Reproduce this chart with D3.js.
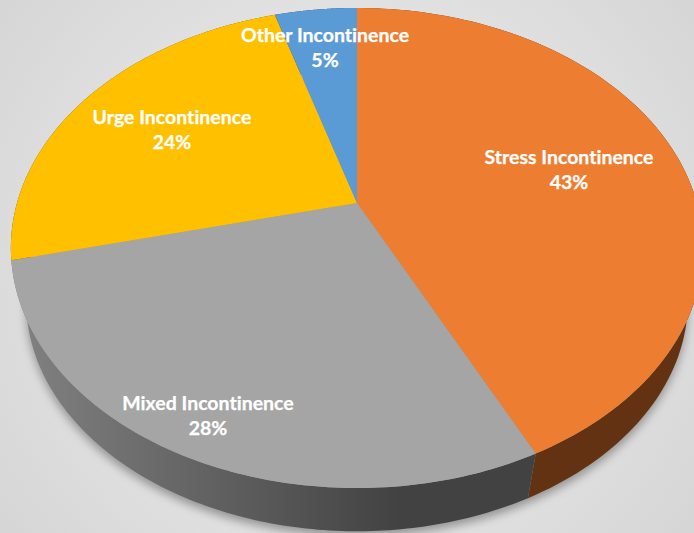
<!DOCTYPE html>
<html>
<head>
<meta charset="utf-8">
<script src="https://cdn.jsdelivr.net/npm/d3@7"></script>
<style>
	html, body { margin: 0; padding: 0; overflow: hidden; background: #e4e4e4; }
	svg { display: block; }
	text { font-family: Lato, sans-serif; font-weight: 700; font-size: 19.5px; font-variant-ligatures: none; fill: #fff; stroke: #fff; stroke-width: 0.25px; text-anchor: middle; }
</style>
</head>
<body>
<div id="chart"></div>
<script>

// data
var categories = ["Stress Incontinence", "Mixed Incontinence", "Urge Incontinence", "Other Incontinence"];
var shares = [42.8, 28.4, 24.2, 4.6];

// colours per slice
var topcolors = ["#ed7d31", "#a5a5a5", "#ffc000", "#5b9bd5"];
var sidecolors = ["#633213", "url(#grayside)", "#6b5000", "#264160"];

// label anchors (center x, first baseline y)
var labelx = [569, 208, 172, 325];
var labely = [164, 410, 124, 42];

var width = 694, height = 533;

// the tilted disc: circle seen in perspective
var disc = { cx: 357, cy: 203, rx: 340, ry: 231.6, k: 0.1875 };
var base = { cx: 357, cy: 258, rx: 325, ry: 222, k: 0.1875 };

function project(c, a, r)	{

	var d = 1 + c.k * Math.cos(a);
	return [ c.cx + r * c.rx * Math.sin(a) / d, c.cy - r * c.ry * Math.cos(a) / d ];

}

function arcpoints(c, a0, a1)	{

	return d3.range(0, 121).map( i => project(c, a0 + (a1 - a0) * i / 120, 1) );

}

var svg = d3.select("#chart").append("svg")
	.attr("width", width)
	.attr("height", height);

var defs = svg.append("defs");

var bg = defs.append("radialGradient")
	.attr("id", "bg")
	.attr("gradientUnits", "userSpaceOnUse")
	.attr("cx", width / 2).attr("cy", height / 2).attr("r", 460);
bg.append("stop").attr("offset", "0").attr("stop-color", "#f2f2f2");
bg.append("stop").attr("offset", "1").attr("stop-color", "#d4d4d4");

var gs = defs.append("linearGradient")
	.attr("id", "grayside")
	.attr("gradientUnits", "userSpaceOnUse")
	.attr("x1", 25).attr("x2", 400).attr("y1", 0).attr("y2", 0);
gs.append("stop").attr("offset", "0").attr("stop-color", "#808080");
gs.append("stop").attr("offset", "1").attr("stop-color", "#424242");

defs.append("filter")
	.attr("id", "blur")
	.attr("x", "-10%").attr("y", "-10%").attr("width", "120%").attr("height", "120%")
	.append("feGaussianBlur").attr("stdDeviation", 5);

svg.append("rect")
	.attr("width", width)
	.attr("height", height)
	.attr("fill", "url(#bg)");

var pie = d3.pie().sort(null).value( d => d );
var slices = pie(shares);
var line = d3.line();

// soft shadow under the disc
svg.append("path")
	.attr("d", line(arcpoints(base, 0, 2 * Math.PI).map( p => [p[0], p[1] + 5] )) + "Z")
	.attr("fill", "#555")
	.attr("opacity", 0.55)
	.attr("filter", "url(#blur)");

// side wall
svg.selectAll("path.side")
	.data(slices)
	.join("path")
	.attr("class", "side")
	.attr("fill", (d, i) => sidecolors[i])
	.attr("d", d => line(arcpoints(disc, d.startAngle, d.endAngle)
		.concat(arcpoints(base, d.endAngle, d.startAngle))) + "Z");

// top faces
svg.selectAll("path.face")
	.data(slices)
	.join("path")
	.attr("class", "face")
	.attr("fill", (d, i) => topcolors[i])
	.attr("d", d => line([ project(disc, 0, 0) ]
		.concat(arcpoints(disc, d.startAngle, d.endAngle))) + "Z");

// labels
var labels = svg.selectAll("g.label")
	.data(slices)
	.join("g")
	.attr("class", "label");

labels.append("text")
	.attr("x", (d, i) => labelx[i])
	.attr("y", (d, i) => labely[i])
	.text( (d, i) => categories[i] );

labels.append("text")
	.attr("x", (d, i) => labelx[i])
	.attr("y", (d, i) => labely[i] + 25)
	.text( d => Math.round(d.value) + "%" );

</script>
</body>
</html>
